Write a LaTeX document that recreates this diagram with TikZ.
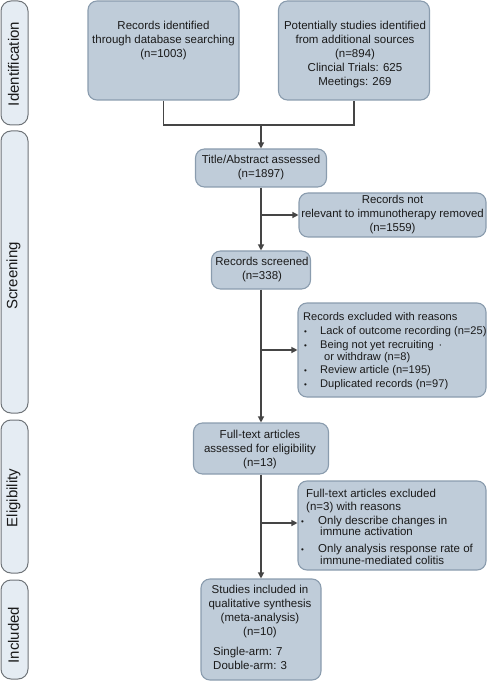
\documentclass[tikz,border=0pt]{standalone}
\usepackage{fontspec}
\setmainfont{Liberation Sans}
\usetikzlibrary{arrows.meta,calc}
\definecolor{boxfill}{HTML}{BFCCD9}
\definecolor{boxdraw}{HTML}{8A9CAE}
\definecolor{sidefill}{HTML}{E5ECF3}
\definecolor{sidedraw}{HTML}{6F7479}
\definecolor{linec}{HTML}{454545}
\definecolor{txtc}{HTML}{1A1A1A}
\begin{document}
\begin{tikzpicture}[x=1pt,y=-1pt,
  mainbox/.style={draw=boxdraw, fill=boxfill, line width=1.1pt, rounded corners=9pt, inner sep=0pt},
  sidebox/.style={draw=sidedraw, fill=sidefill, line width=1pt, rounded corners=10pt, inner sep=0pt, minimum width=27pt},
  txt/.style={font=\fontsize{11.5}{14}\selectfont, align=center, inner sep=0pt, text=txtc},
  ltxt/.style={font=\fontsize{11.5}{14}\selectfont, align=left, inner sep=0pt, text=txtc},
  sidetxt/.style={font=\fontsize{15}{18}\selectfont, rotate=90, inner sep=0pt, text=txtc},
  conn/.style={draw=linec, line width=1.2pt},
  arr/.style={conn, -{Triangle[length=6pt,width=6pt]}}
]
\useasboundingbox (0,0) rectangle (487,700);

% side phase boxes
\node[sidebox, minimum height=124pt] (sid) at (14.5,63) {};
\node[sidebox, minimum height=282pt] (sscr) at (14.5,272) {};
\node[sidebox, minimum height=153pt] (selg) at (14.5,496.5) {};
\node[sidebox, minimum height=99pt]  (sinc) at (14.5,629.5) {};
\node[sidetxt] (lid)  at (13.5,64)  {Identification};
\node[sidetxt] (lscr) at (13.5,276) {Screening};
\node[sidetxt] (lelg) at (13.5,498) {Eligibility};
\node[sidetxt] (linc) at (13.5,635) {Included};

% main boxes
\node[mainbox, minimum width=151pt, minimum height=99pt] (rec) at (163.5,50.5) {};
\node[mainbox, minimum width=151pt, minimum height=99pt] (pot) at (354,50.5) {};
\node[mainbox, minimum width=131pt, minimum height=38pt] (title) at (261,168) {};
\node[mainbox, minimum width=187pt, minimum height=44pt] (notrel) at (392.5,215) {};
\node[mainbox, minimum width=99pt, minimum height=38pt] (scr) at (261,270) {};
\node[mainbox, minimum width=188pt, minimum height=94pt] (excl) at (392,350) {};
\node[mainbox, minimum width=135pt, minimum height=51pt] (full) at (261,448.5) {};
\node[mainbox, minimum width=188pt, minimum height=89pt] (fexcl) at (392,525.5) {};
\node[mainbox, minimum width=120pt, minimum height=101pt] (stud) at (261,629.5) {};

% texts
\node[txt] (trec) at (163.5,41) {Records identified\\through database searching\\(n=1003)};
\node[txt] (tpot) at (355,54.5) {Potentially studies identified\\from additional sources\\(n=894)\\Clincial Trials: 625\\Meetings: 269};
\node[txt] (ttitle) at (261,168) {Title/Abstract assessed\\(n=1897)};
\node[txt, font=\fontsize{11.4}{14}\selectfont] (tnotrel) at (392.5,215) {Records not\\relevant to immunotherapy removed\\(n=1559)};
\node[txt] (tscr) at (262,270) {Records screened\\(n=338)};
\node[ltxt, font=\fontsize{11.1}{14}\selectfont, anchor=north west] (texcl) at (303,312)
  {Records excluded with reasons\\
   \hspace*{1pt}\makebox[16pt][l]{\fontsize{8}{8}\selectfont •}Lack of outcome recording (n=25)\\
   \hspace*{1pt}\makebox[16pt][l]{\fontsize{8}{8}\selectfont •}Being not yet recruiting \,·\\[-2pt]
   \hspace*{21pt}or withdraw (n=8)\\[-1pt]
   \hspace*{1pt}\makebox[16pt][l]{\fontsize{8}{8}\selectfont •}Review article (n=195)\\
   \hspace*{1pt}\makebox[16pt][l]{\fontsize{8}{8}\selectfont •}Duplicated records (n=97)};
\node[txt] (tfull) at (260,449.5) {Full-text articles\\assessed for eligibility\\(n=13)};
\node[ltxt, anchor=north west] (tfexcl) at (301,488.6)
  {\hspace*{5pt}Full-text articles excluded\\[-0.5pt]
   \hspace*{5pt}(n=3) with reasons\\
   \makebox[17pt][l]{\fontsize{8}{8}\selectfont •}Only describe changes in\\[-3pt]
   \hspace*{19pt}immune activation\\[3pt]
   \makebox[17pt][l]{\fontsize{8}{8}\selectfont •}Only analysis response rate of\\[-2pt]
   \hspace*{19pt}immune-mediated colitis};
\node[txt] (tstud) at (260,612) {Studies included in\\qualitative synthesis\\(meta-analysis)\\(n=10)};
\node[ltxt, anchor=west] (tstud2) at (213,658) {Single-arm: 7\\Double-arm: 3};

% connectors
\coordinate (j) at (261,125);
\draw[conn] (rec.south) -- (rec.south |- j) -- (pot.south |- j) -- (pot.south);
\draw[arr] (j) -- (title.north);
\draw[arr] (title.south) -- (scr.north);
\draw[arr] (title.south |- notrel.west) -- (notrel.west);
\draw[arr] (scr.south) -- (full.north);
\draw[arr] (scr.south |- excl.west) -- (excl.west);
\draw[arr] (full.south) -- (stud.north);
\draw[arr] (full.south |- 0,523) -- (fexcl.west |- 0,523);
\end{tikzpicture}
\end{document}
